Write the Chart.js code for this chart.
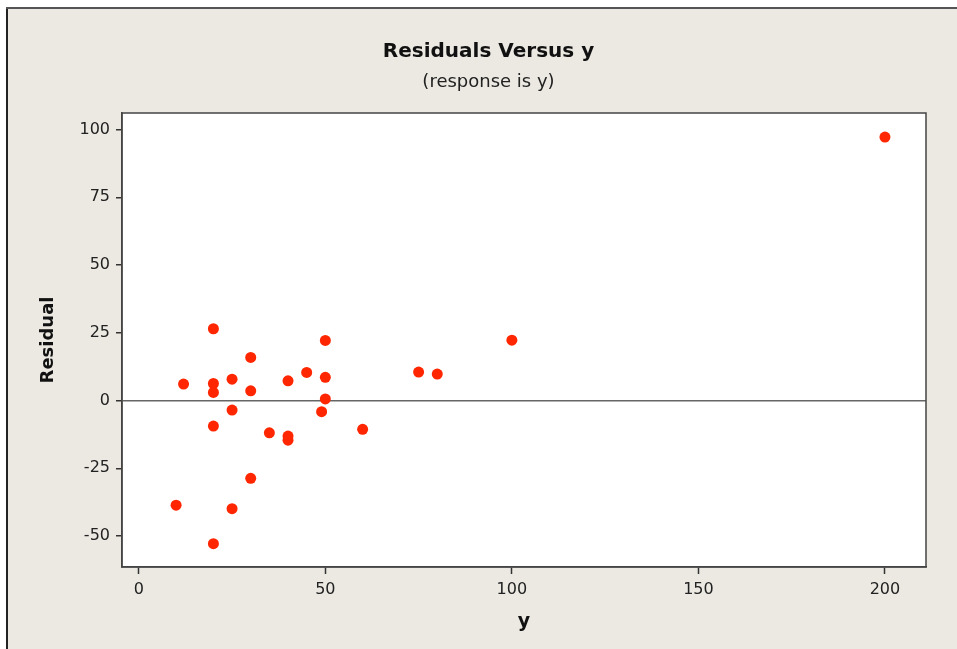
<!DOCTYPE html>
<html>
<head>
<meta charset="utf-8">
<script src="https://cdn.jsdelivr.net/npm/chart.js@4/dist/chart.umd.min.js"></script>
<style>
  body { margin: 0; background: #fff; }
  #wrap { width: 957px; height: 649px; }
</style>
</head>
<body>
<div id="wrap"><canvas id="myChart"></canvas></div>
<script>
// fitted response y (x axis) and residuals (y axis)
var yValues = [10, 12, 20, 20, 20, 20, 20, 25, 25, 25, 30, 30, 30, 35, 40, 40, 40, 45, 49, 50, 50, 50, 60, 75, 80, 100, 200];
var residuals = [-38.6, 6.1, 26.5, 6.3, 3.0, -9.4, -52.8, 7.9, -3.5, -39.9, 15.9, 3.6, -28.7, -11.9, 7.3, -13.1, -14.6, 10.4, -4.1, 22.2, 8.6, 0.6, -10.6, 10.5, 9.8, 22.3, 97.2];
var xTicks = [0, 50, 100, 150, 200];
var yTicks = [-50, -25, 0, 25, 50, 75, 100];

var points = yValues.map(function(v, i){ return {x: v, y: residuals[i]}; });

// panel background + frame around the plot area
var panel = {
    id: 'panel',
    beforeDraw: function(chart){
        var c = chart.ctx;
        c.save();
        c.fillStyle = '#ffffff';
        c.fillRect(0, 0, chart.width, chart.height);
        c.fillStyle = '#ece9e2';
        c.fillRect(8, 8, chart.width - 8, chart.height - 8);
        c.fillStyle = '#222';
        c.fillRect(6, 7, 2, chart.height - 7);
        c.fillStyle = '#555';
        c.fillRect(6, 7, chart.width - 6, 2);
        var a = chart.chartArea;
        c.fillStyle = '#ffffff';
        c.fillRect(a.left, a.top, a.right - a.left, a.bottom - a.top);
        c.restore();
    },
    afterDatasetsDraw: function(chart){
        var a = chart.chartArea, c = chart.ctx;
        c.save();
        c.strokeStyle = '#444';
        c.lineWidth = 1.5;
        c.strokeRect(a.left, a.top, a.right - a.left, a.bottom - a.top);
        c.restore();
    }
};

var ctx = document.getElementById('myChart');
var myChart = new Chart(ctx, {
    type: 'scatter',
    data: {
        datasets: [{
            data: points,
            backgroundColor: 'rgb(255, 38, 0)',
            borderColor: 'rgb(255, 38, 0)',
            borderWidth: 0,
            pointRadius: 5.5,
            pointHoverRadius: 5.5
        }]
    },
    options: {
        responsive: true,
        maintainAspectRatio: false,
        animation: false,
        layout: { padding: { left: 51, right: 31, top: 0, bottom: 0 } },
        plugins: {
            legend: { display: false },
            tooltip: { enabled: false },
            title: {
                display: true,
                text: 'Residuals Versus y',
                color: '#111',
                font: { family: 'DejaVu Sans', size: 20, weight: 'bold', lineHeight: 1.2 },
                padding: { top: 40, bottom: 8 }
            },
            subtitle: {
                display: true,
                text: '(response is y)',
                color: '#222',
                font: { family: 'DejaVu Sans', size: 18, weight: 'normal', lineHeight: 1.2 },
                padding: { top: 0, bottom: 19.4 }
            }
        },
        scales: {
            x: {
                type: 'linear',
                min: -4.5,
                max: 211,
                afterFit: function(s){ s.height = 82; },
                afterBuildTicks: function(s){ s.ticks = xTicks.map(function(v){ return {value: v}; }); },
                ticks: { color: '#222', font: { family: 'DejaVu Sans', size: 16 }, padding: 6, maxRotation: 0 },
                grid: { drawOnChartArea: false, color: '#333', tickLength: 7, tickWidth: 1.5 },
                border: { color: '#444', width: 1.5 },
                title: {
                    display: true,
                    text: 'y',
                    color: '#111',
                    font: { family: 'DejaVu Sans', size: 19, weight: 'bold' },
                    padding: { top: 0, bottom: 15.6 }
                }
            },
            y: {
                type: 'linear',
                min: -61.4,
                max: 106.1,
                afterFit: function(s){ s.width = 71; },
                afterBuildTicks: function(s){ s.ticks = yTicks.map(function(v){ return {value: v}; }); },
                ticks: { color: '#222', font: { family: 'DejaVu Sans', size: 16 }, padding: 6 },
                grid: {
                    color: function(c){ return c.tick && c.tick.value === 0 ? '#666' : 'rgba(0,0,0,0)'; },
                    lineWidth: 1.5,
                    tickColor: '#333',
                    tickLength: 6,
                    tickWidth: 1.5
                },
                border: { color: '#444', width: 1.5 },
                title: {
                    display: true,
                    text: 'Residual',
                    color: '#111',
                    font: { family: 'DejaVu Sans', size: 18, weight: 'bold' },
                    padding: { top: -13.3, bottom: 0 }
                }
            }
        }
    },
    plugins: [panel]
});
</script>
</body>
</html>
